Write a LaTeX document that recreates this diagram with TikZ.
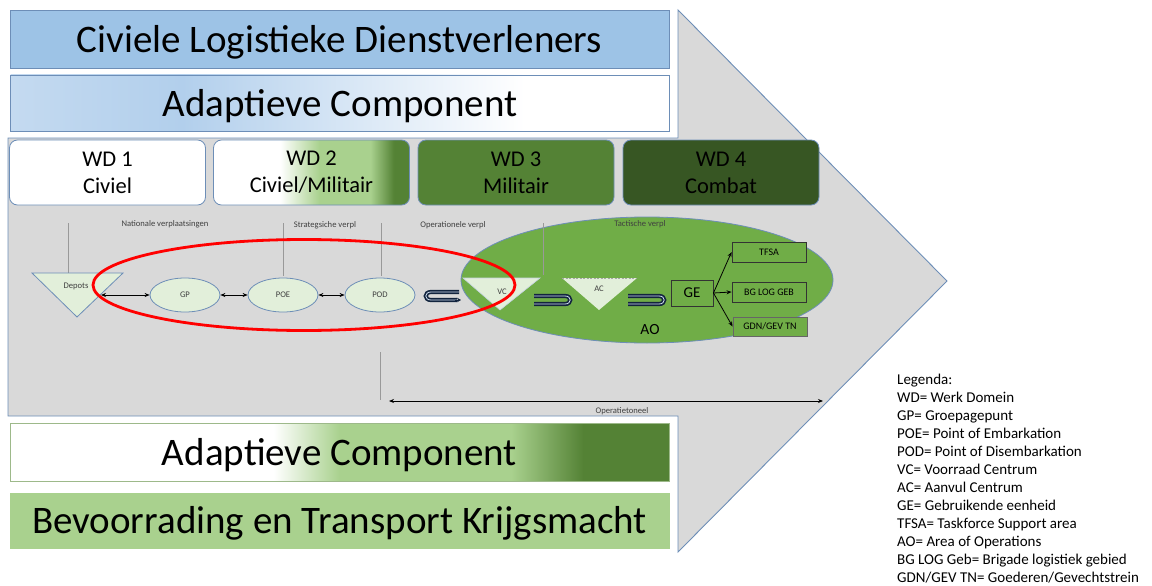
\documentclass[tikz,border=0pt]{standalone}
\usepackage{fontspec}
\setmainfont{Carlito}
\usetikzlibrary{arrows.meta,shapes.geometric}

\definecolor{edgeblue}{RGB}{109,142,183}
\definecolor{bannerblue}{RGB}{157,195,230}
\definecolor{fadeblue}{RGB}{196,218,240}
\definecolor{midblue}{RGB}{178,207,236}
\definecolor{lightgreen}{RGB}{169,209,142}
\definecolor{darkgreen}{RGB}{84,130,53}
\definecolor{deepgreen}{RGB}{55,86,35}
\definecolor{aogreen}{RGB}{112,173,71}
\definecolor{palegreen}{RGB}{226,239,218}
\definecolor{arrowgray}{RGB}{217,217,217}
\definecolor{navy}{RGB}{18,36,62}
\definecolor{uinner}{RGB}{205,220,238}
\definecolor{labelgray}{RGB}{64,64,64}

% horizontal fades (25bp = left edge, 75bp = right edge)
\pgfdeclarehorizontalshading{topfade}{100bp}{color(0bp)=(fadeblue); color(25bp)=(fadeblue); color(38bp)=(midblue); color(64bp)=(white); color(100bp)=(white)}
\pgfdeclarehorizontalshading{wdfade}{100bp}{color(0bp)=(white); color(42bp)=(white); color(52bp)=(lightgreen); color(65bp)=(lightgreen); color(71bp)=(darkgreen); color(100bp)=(darkgreen)}
\pgfdeclarehorizontalshading{lowfade}{100bp}{color(0bp)=(white); color(45bp)=(white); color(50bp)=(lightgreen); color(63bp)=(lightgreen); color(68.5bp)=(darkgreen); color(100bp)=(darkgreen)}

\tikzset{
  banner/.style={draw=edgeblue, line width=0.9pt, minimum width=659pt, inner sep=0pt,
    font=\fontsize{39}{44}\selectfont},
  bannertext/.style={inner sep=0pt, font=\fontsize{39}{44}\selectfont},
  wdbox/.style={draw=edgeblue, line width=0.8pt, rounded corners=8pt, minimum width=196pt,
    minimum height=65pt, align=center, inner sep=0pt, font=\fontsize{22.5}{27}\selectfont},
  tinylabel/.style={text=labelgray, font=\fontsize{8.6}{10}\selectfont, inner sep=0pt},
  stage/.style={ellipse, draw=edgeblue, line width=0.8pt, fill=palegreen, minimum width=70pt,
    minimum height=34pt, inner sep=0pt, font=\fontsize{8.6}{10}\selectfont, text=labelgray},
  guide/.style={draw=gray!80, line width=0.6pt},
  tip/.style={{Stealth[length=5pt,width=4pt]}-{Stealth[length=5pt,width=4pt]}, line width=0.7pt},
  outtip/.style={-{Stealth[length=5pt,width=4pt]}, line width=0.8pt},
  uconn/.style={draw=navy, line width=1.7pt, double=uinner, double distance=0.8pt},
  unitbox/.style={draw=black!80, line width=0.9pt, fill=aogreen, inner sep=0pt},
  legend/.style={anchor=base west, inner sep=0pt, font=\fontsize{15}{18}\selectfont}
}

\begin{document}
\begin{tikzpicture}[x=1pt,y=-1pt]
\useasboundingbox (0,0) rectangle (1152,586);
\clip (0,0) rectangle (1152,586);

% big gray arrow behind everything
\draw[draw=edgeblue, fill=arrowgray, line width=0.9pt]
  (8,138) -- (678,138) -- (678,10) -- (947,281) -- (678,552) -- (678,416) -- (8,416) -- cycle;

% top banners
\node[banner, fill=bannerblue, minimum height=58pt] (civ) at (339.5,39) {};
\node[bannertext] (civt) at (339.5,42) {Civiele Logistieke Dienstverleners};
\node[banner, shade, shading=topfade, minimum height=56pt] (adtop) at (340,103) {};
\node[bannertext] (adtopt) at (340,106) {Adaptieve Component};

% work domains
\node[wdbox, fill=white] (wd1) at (107.5,172.5) {WD 1\\Civiel};
\node[wdbox, shade, shading=wdfade] (wd2) at (311.5,172.5) {WD 2\\Civiel/Militair};
\node[wdbox, fill=darkgreen] (wd3) at (516,172.5) {WD 3\\Militair};
\node[wdbox, fill=deepgreen] (wd4) at (721,172.5) {WD 4\\Combat};

% movement labels
\node[tinylabel] (lnat) at (165,224) {Nationale verplaatsingen};
\node[tinylabel] (lstr) at (325,225) {Strategsiche verpl};
\node[tinylabel] (lope) at (453,225) {Operationele verpl};

% area of operations
\node[ellipse, draw=edgeblue, line width=0.8pt, fill=aogreen, minimum width=372pt,
  minimum height=126pt, inner sep=0pt] (ao) at (647,280) {};
\node[tinylabel] (ltac) at (640,224) {Tactische verpl};
\node[inner sep=0pt, font=\fontsize{15.5}{18}\selectfont] (aolbl) at (650,330) {AO};

% guide lines
\draw[guide] (68,223) -- (68,273);
\draw[guide] (283,223) -- (283,276);
\draw[guide] (381,223) -- (381,276);
\draw[guide] (543,223) -- (543,275);
\draw[guide] (380,352) -- (380,400);

% depots
\draw[draw=edgeblue, line width=0.8pt, fill=palegreen] (32,273) -- (123,273) -- (77,317) -- cycle;
\node[tinylabel] (depots) at (76,286) {Depots};
\coordinate (depr) at (101,295);

% chain of stages
\node[stage] (gp) at (185,295) {GP};
\node[stage] (poe) at (283,295) {POE};
\node[stage] (pod) at (380,295) {POD};
\draw[tip] (depr) -- (gp);
\draw[tip] (gp) -- (poe);
\draw[tip] (poe) -- (pod);

% supply centres
\draw[draw=white!60!edgeblue, line width=0.6pt, fill=palegreen] (463,278) -- (540,278) -- (500,310) -- cycle;
\node[tinylabel] (vc) at (502,292) {VC};
\fill[palegreen] (562,278) -- (637,278) -- (599,310) -- cycle;
\draw[draw=gray!70, line width=0.6pt, dash pattern=on 2pt off 1.5pt] (562,278) -- (637,278);
\node[tinylabel] (ac) at (599,289) {AC};

% looped connectors
\coordinate (u1a) at (459,292); \coordinate (u1b) at (457,300);
\draw[uconn] (u1a) -- (431,292) .. controls (424,292) and (424,300) .. (431,300) -- (u1b);
\draw[-{Stealth[length=4pt,width=4.5pt]}, navy, line width=1pt] (455,300) -- (461,300);
\coordinate (u2a) at (534,296); \coordinate (u2b) at (534,304);
\draw[uconn] (u2a) -- (565,296) .. controls (572,296) and (572,304) .. (565,304) -- (u2b);
\coordinate (u3a) at (628,296); \coordinate (u3b) at (628,304);
\draw[uconn] (u3a) -- (659,296) .. controls (666,296) and (666,304) .. (659,304) -- (u3b);

% using unit and destinations
\node[unitbox, minimum width=42pt, minimum height=26pt, font=\fontsize{15}{18}\selectfont] (ge) at (692,293) {GE};
\node[unitbox, minimum width=74pt, minimum height=20pt, font=\fontsize{10}{12}\selectfont] (tfsa) at (769,252) {TFSA};
\node[unitbox, minimum width=74pt, minimum height=20pt, font=\fontsize{10}{12}\selectfont] (bglog) at (769,292) {BG LOG GEB};
\node[unitbox, draw=black!60, minimum width=74pt, minimum height=19pt, font=\fontsize{10}{12}\selectfont] (gdn) at (770,326.5) {GDN/GEV TN};
\draw[outtip] (ge.east) -- (tfsa.west);
\draw[outtip] (ge.east) -- (bglog.west);
\draw[outtip] (ge.east) -- (gdn.west);

% scope of the operations theatre
\coordinate (opl) at (389,401); \coordinate (opr) at (823,401);
\draw[tip, line width=1pt] (opl) -- (opr);
\node[tinylabel] (optl) at (622,411.5) {Operatietoneel};

% red grouping ellipse
\node[ellipse, draw=red, line width=2.8pt, minimum width=422pt, minimum height=91pt, inner sep=0pt] (grp) at (304,285) {};

% lower banners
\node[banner, draw=lightgreen!70!gray, shade, shading=lowfade, minimum height=58pt] (adlow) at (339.5,452) {};
\node[bannertext] (adlowt) at (339.5,455) {Adaptieve Component};
\node[banner, draw=lightgreen, fill=lightgreen, minimum height=55pt] (bev) at (339.5,520.5) {};
\node[bannertext] (bevt) at (339.5,523.5) {Bevoorrading en Transport Krijgsmacht};

% legend
\foreach \txt [count=\i] in {Legenda:, WD= Werk Domein, GP= Groepagepunt, POE= Point of Embarkation,
  POD= Point of Disembarkation, VC= Voorraad Centrum, AC= Aanvul Centrum, GE= Gebruikende eenheid,
  TFSA= Taskforce Support area, AO= Area of Operations, BG LOG Geb= Brigade logistiek gebied,
  GDN/GEV TN= Goederen/Gevechtstrein}
  \node[legend] (leg\i) at (897,{384+18*(\i-1)}) {\txt};
\end{tikzpicture}
\end{document}
